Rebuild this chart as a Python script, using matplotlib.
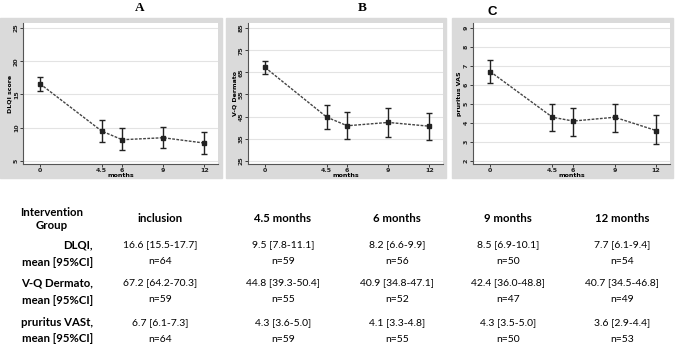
import numpy as np
import matplotlib.pyplot as plt
from matplotlib.patches import Rectangle

months = [0, 4.5, 6, 9, 12]
dlqi = [16.6, 9.5, 8.2, 8.5, 7.7]
dlqi_lo = [15.5, 7.8, 6.6, 6.9, 6.1]
dlqi_hi = [17.7, 11.1, 9.9, 10.1, 9.4]
vq = [67.2, 44.8, 40.9, 42.4, 40.7]
vq_lo = [64.2, 39.3, 34.8, 36.0, 34.5]
vq_hi = [70.3, 50.4, 47.1, 48.8, 46.8]
vas = [6.7, 4.3, 4.1, 4.3, 3.6]
vas_lo = [6.1, 3.6, 3.3, 3.5, 2.9]
vas_hi = [7.3, 5.0, 4.8, 5.0, 4.4]
n_dlqi = [64, 59, 56, 50, 54]
n_vq = [59, 55, 52, 47, 49]
n_vas = [64, 59, 55, 50, 53]

col_headers = ["inclusion", "4.5 months", "6 months", "9 months", "12 months"]
row_labels = ["DLQI,", "V-Q Dermato,", "pruritus VASt,"]

W, H = 676, 344
fig = plt.figure(figsize=(W / 100, H / 100), dpi=100)

def px(x, y):
    return x / W, 1 - y / H

def add_panel(gx0, gx1, ax0, ax1, y, lo, hi, ylabel, yticks, ylim, letter, lx, ly, lfont):
    # gray graph region
    fig.patches.append(Rectangle((gx0 / W, 1 - 178 / H), (gx1 - gx0) / W, 160 / H,
                                 transform=fig.transFigure, color="#dadada", zorder=-5))
    ax = fig.add_axes([ax0 / W, 1 - 164 / H, (ax1 - ax0) / W, 141 / H])
    ax.set_zorder(2)
    ax.set_facecolor("white")
    y = np.array(y)
    err = [y - np.array(lo), np.array(hi) - y]
    ax.errorbar(months, y, yerr=err, fmt="s", color="#222222", ms=3, capsize=2,
                elinewidth=1, capthick=1, zorder=3)
    ax.plot(months, y, linestyle=(0, (2, 1)), color="#444444", lw=1, zorder=2)
    ax.set_xlim(-1.25, 13.0)
    ax.set_ylim(*ylim)
    ax.set_xticks(months)
    ax.set_xticklabels(["0", "4.5", "6", "9", "12"], fontsize=4.5, fontweight="bold")
    ax.set_yticks(yticks)
    ax.set_yticklabels([str(t) for t in yticks], fontsize=4.5, rotation=90, va="center",
                       fontweight="bold")
    ax.grid(axis="y", color="#e3e3e3", lw=0.8)
    ax.set_axisbelow(True)
    for s in ["top", "right"]:
        ax.spines[s].set_visible(False)
    for s in ["left", "bottom"]:
        ax.spines[s].set_color("#555555")
        ax.spines[s].set_linewidth(0.8)
    ax.tick_params(length=2, width=0.6, pad=1, colors="#222222")
    ax.set_xlabel("months", fontsize=4.5, fontweight="bold", labelpad=0)
    ax.set_ylabel(ylabel, fontsize=4.5, fontweight="bold", labelpad=1)
    fig.text(*px(lx, ly), letter, ha="center", va="center", fontsize=9.5,
             family=lfont, fontweight="bold")

add_panel(0, 222, 23, 218, dlqi, dlqi_lo, dlqi_hi, "DLQI score", [5, 10, 15, 20, 25],
          (4.55, 25.75), "A", 140, 8, "Liberation Serif")
add_panel(226, 446, 248, 443, vq, vq_lo, vq_hi, "V-Q Dermato", [25, 35, 45, 55, 65, 75, 85],
          (23.65, 87.25), "B", 362, 8, "Liberation Serif")
add_panel(452, 673, 473, 670, vas, vas_lo, vas_hi, "pruritus VAS", [2, 3, 4, 5, 6, 7, 8, 9],
          (1.84, 9.26), "C", 492, 12, "Liberation Sans")

# table below the plots
tfont = "Lato"
fs = 7.5
fsb = 8.2
col_x = [160, 283, 397, 508, 622]
fig.text(*px(52, 219), "Intervention\nGroup", ha="center", va="center", fontsize=fsb,
         fontweight="bold", family=tfont, linespacing=1.3)
for cx, h in zip(col_x, col_headers):
    fig.text(*px(cx, 219), h, ha="center", va="center", fontsize=fsb, fontweight="bold", family=tfont)

rows = [(dlqi, dlqi_lo, dlqi_hi, n_dlqi), (vq, vq_lo, vq_hi, n_vq), (vas, vas_lo, vas_hi, n_vas)]
row_y = [(245, 262), (283, 300), (323, 339)]
for (m, lo, hi, n), (y1, y2), lab in zip(rows, row_y, row_labels):
    fig.text(*px(93, y1), lab, ha="right", va="center", fontsize=fsb, fontweight="bold", family=tfont)
    fig.text(*px(93, y2), "mean [95%CI]", ha="right", va="center", fontsize=fsb,
             fontweight="bold", family=tfont)
    for i, cx in enumerate(col_x):
        fig.text(*px(cx, y1), "%.1f [%.1f-%.1f]" % (m[i], lo[i], hi[i]), ha="center", va="center",
                 fontsize=fs, family=tfont)
        fig.text(*px(cx, y2), "n=%d" % n[i], ha="center", va="center", fontsize=fs, family=tfont)

fig.savefig("out.png", dpi=100)
